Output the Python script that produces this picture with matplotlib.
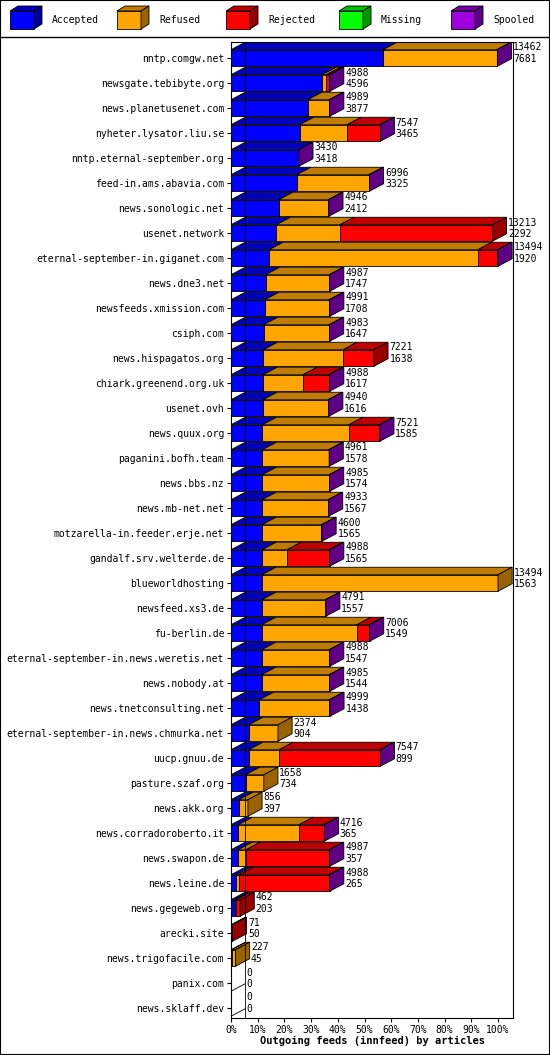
import matplotlib
matplotlib.use("Agg")
import matplotlib.pyplot as plt
from matplotlib.patches import Polygon, Rectangle
import matplotlib.colors as mc

hosts = ["nntp.comgw.net","newsgate.tebibyte.org","news.planetusenet.com","nyheter.lysator.liu.se",
 "nntp.eternal-september.org","feed-in.ams.abavia.com","news.sonologic.net","usenet.network",
 "eternal-september-in.giganet.com","news.dne3.net","newsfeeds.xmission.com","csiph.com",
 "news.hispagatos.org","chiark.greenend.org.uk","usenet.ovh","news.quux.org","paganini.bofh.team",
 "news.bbs.nz","news.mb-net.net","motzarella-in.feeder.erje.net","gandalf.srv.welterde.de",
 "blueworldhosting","newsfeed.xs3.de","fu-berlin.de","eternal-september-in.news.weretis.net",
 "news.nobody.at","news.tnetconsulting.net","eternal-september-in.news.chmurka.net","uucp.gnuu.de",
 "pasture.szaf.org","news.akk.org","news.corradoroberto.it","news.swapon.de","news.leine.de",
 "news.gegeweb.org","arecki.site","news.trigofacile.com","panix.com","news.sklaff.dev"]
offered = [13462,4988,4989,7547,3430,6996,4946,13213,13494,4987,4991,4983,7221,4988,4940,7521,4961,
 4985,4933,4600,4988,13494,4791,7006,4988,4985,4999,2374,7547,1658,856,4716,4987,4988,462,71,227,0,0]
accepted = [7681,4596,3877,3465,3418,3325,2412,2292,1920,1747,1708,1647,1638,1617,1616,1585,1578,
 1574,1567,1565,1565,1563,1557,1549,1547,1544,1438,904,899,734,397,365,357,265,203,50,45,0,0]
refused = [5751,220,1080,2400,0,3640,2500,3213,10554,3210,3253,3306,4018,2019,3294,4374,3353,
 3381,3336,3005,1263,11931,3204,4814,3411,3411,3531,1470,1525,924,459,3069,400,150,30,0,182,0,0]
rejected = [0,140,0,1650,0,0,0,7708,990,0,0,0,1565,1300,0,1532,0,0,0,0,2130,0,0,613,0,0,0,0,5093,
 0,0,1250,4200,4543,229,21,0,0,0]
missing = [0]*39
spooled = [30,32,32,32,12,31,34,0,30,30,30,30,0,52,30,30,30,30,30,30,30,0,30,30,30,30,30,0,30,
 0,0,32,30,30,0,0,0,0,0]

labels = ["Accepted","Refused","Rejected","Missing","Spooled"]
colors = ["#0000ff","#ffa500","#ff0000","#00ff00","#a000e0"]
maxv = max(offered)

fig = plt.figure(figsize=(5.5,10.55), dpi=100)
W,H = 550,1055
ax = fig.add_axes([231/W, 1-1018/H, (513-231)/W, (1018-42)/H])
n = len(hosts)
ax.set_xlim(0, 100*(513-231)/(498-231))
ax.set_ylim(n-1+0.4, -0.64)
dx, dy, hh = 5.3, 0.3, 0.33

def dark(c, f):
    r,g,b = mc.to_rgb(c); return (r*f,g*f,b*f)

for i in range(n):
    left = 0.0
    segs = [accepted[i],refused[i],rejected[i],missing[i],spooled[i]]
    last = None
    for v,c in zip(segs,colors):
        if v <= 0: continue
        w = v/maxv*100
        ax.add_patch(Rectangle((left,i-hh),w,2*hh,fc=c,ec="black",lw=0.6))
        ax.add_patch(Polygon([(left,i-hh),(left+dx,i-hh-dy),(left+w+dx,i-hh-dy),(left+w,i-hh)],
                             fc=dark(c,0.75),ec="black",lw=0.6))
        left += w; last = c
    if last is not None:
        ax.add_patch(Polygon([(left,i-hh),(left+dx,i-hh-dy),(left+dx,i+hh-dy),(left,i+hh)],
                             fc=dark(last,0.6),ec="black",lw=0.6))
    else:
        ax.plot([0,dx],[i+hh,i+hh-dy],color="black",lw=0.6)
    tx = left + dx + 0.5
    ax.text(tx, i-0.42, str(offered[i]), fontsize=7, family="DejaVu Sans Mono", va="center", clip_on=False)
    ax.text(tx, i+0.05, str(accepted[i]), fontsize=7, family="DejaVu Sans Mono", va="center", clip_on=False)

ax.axvline(dx, color="black", lw=0.6)
ax.set_yticks(range(n))
ax.set_yticklabels(hosts, fontsize=7, family="DejaVu Sans Mono")
ax.set_xticks(range(0,101,10))
ax.set_xticklabels([f"{t}%" for t in range(0,101,10)], fontsize=7, family="DejaVu Sans Mono")
ax.tick_params(length=3, pad=2)
ax.set_xlabel("Outgoing feeds (innfeed) by articles", fontsize=7.5, family="DejaVu Sans Mono",
              fontweight="bold", labelpad=1)

# outer border and legend
fig.patches.append(Rectangle((0,0),1,1,transform=fig.transFigure,fill=False,ec="black",lw=1.5))
fig.lines.append(plt.Line2D([0,1],[1-37/H,1-37/H],transform=fig.transFigure,color="black",lw=1))
lx = [10,117,226,339,451]
for x,l,c in zip(lx,labels,colors):
    x0,y0 = x/W, 1-29/H
    w,h = 24/W, 18/H
    ox,oy = 8/W, 5/H
    fig.patches.append(Rectangle((x0,y0),w,h,transform=fig.transFigure,fc=c,ec="black",lw=0.6))
    fig.patches.append(Polygon([(x0,y0+h),(x0+ox,y0+h+oy),(x0+w+ox,y0+h+oy),(x0+w,y0+h)],
        transform=fig.transFigure,fc=dark(c,0.75),ec="black",lw=0.6))
    fig.patches.append(Polygon([(x0+w,y0),(x0+w+ox,y0+oy),(x0+w+ox,y0+h+oy),(x0+w,y0+h)],
        transform=fig.transFigure,fc=dark(c,0.6),ec="black",lw=0.6))
    fig.text((x+42)/W, 1-20/H, l, fontsize=7, family="DejaVu Sans Mono", va="center")

fig.savefig("out.png", dpi=100)
